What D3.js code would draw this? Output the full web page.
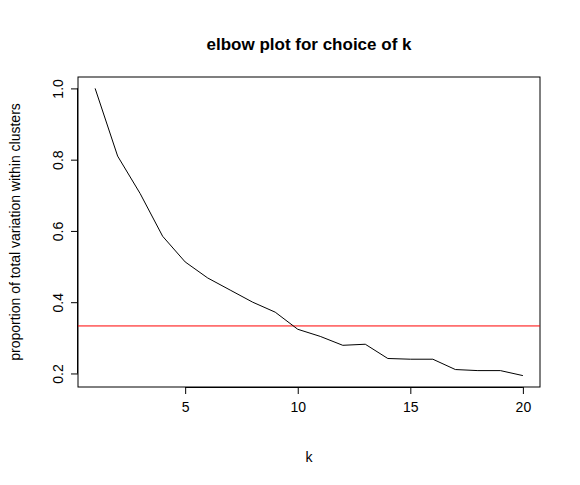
<!DOCTYPE html>
<html><head><meta charset="utf-8">
<script src="https://cdn.jsdelivr.net/npm/d3@7"></script>
<style>body{margin:0;background:#fff}</style>
</head><body>
<svg id="chart" width="580" height="485"></svg>
<script>
const ks = d3.range(1, 21);
const props = [1.0, 0.81, 0.705, 0.585, 0.513, 0.468, 0.434, 0.40, 0.372, 0.324,
  0.304, 0.279, 0.282, 0.242, 0.24, 0.24, 0.211, 0.208, 0.208, 0.194];
const refLine = 1 / 3;
const xTicks = [5, 10, 15, 20];
const yTicks = [0.2, 0.4, 0.6, 0.8, 1.0];

const svg = d3.select('#chart');
const font = 'Liberation Sans, Arial, sans-serif';
const pLeft = 78, pRight = 540, pTop = 77, pBottom = 387;

const x = d3.scaleLinear().domain([0.24, 20.76]).range([pLeft, pRight]);
const y = d3.scaleLinear().domain([0.162, 1.032]).range([pBottom, pTop]);

// box
svg.append('rect').attr('x', pLeft).attr('y', pTop)
  .attr('width', pRight - pLeft).attr('height', pBottom - pTop)
  .attr('fill', 'none').attr('stroke', 'black');

// reference line
svg.append('line').attr('x1', pLeft).attr('x2', pRight)
  .attr('y1', y(refLine)).attr('y2', y(refLine))
  .attr('stroke', 'red');

// data line
svg.append('path').datum(ks.map((k, i) => [k, props[i]]))
  .attr('d', d3.line().x(d => x(d[0])).y(d => y(d[1])))
  .attr('fill', 'none').attr('stroke', 'black');

// axes
const xAxis = svg.append('g').attr('transform', `translate(0,${pBottom})`)
  .call(d3.axisBottom(x).tickValues(xTicks).tickSize(7).tickPadding(8).tickFormat(d3.format('d')));
xAxis.select('.domain').attr('d', `M${x(5)},0.5H${x(20)}`);
xAxis.selectAll('text').attr('font-size', 14).attr('font-family', font);

const yAxis = svg.append('g').attr('transform', `translate(${pLeft},0)`)
  .call(d3.axisLeft(y).tickValues(yTicks).tickSize(7).tickFormat(d3.format('.1f')));
yAxis.select('.domain').attr('d', `M-0.5,${y(0.2)}V${y(1.0)}`);
yAxis.selectAll('.tick text')
  .attr('font-size', 14).attr('font-family', font)
  .attr('text-anchor', 'middle')
  .attr('x', 0).attr('y', 0).attr('dy', 0)
  .attr('transform', 'translate(-15,0) rotate(-90)');

// titles
svg.append('text').attr('x', (pLeft + pRight) / 2).attr('y', 50)
  .attr('text-anchor', 'middle').attr('font-family', font)
  .attr('font-weight', 'bold').attr('font-size', 17)
  .text('elbow plot for choice of k');
svg.append('text').attr('x', (pLeft + pRight) / 2).attr('y', 462)
  .attr('text-anchor', 'middle').attr('font-family', font).attr('font-size', 14)
  .text('k');
svg.append('text')
  .attr('transform', `translate(20,${(pTop + pBottom) / 2}) rotate(-90)`)
  .attr('text-anchor', 'middle').attr('font-family', font).attr('font-size', 14)
  .text('proportion of total variation within clusters');
</script>
</body></html>
